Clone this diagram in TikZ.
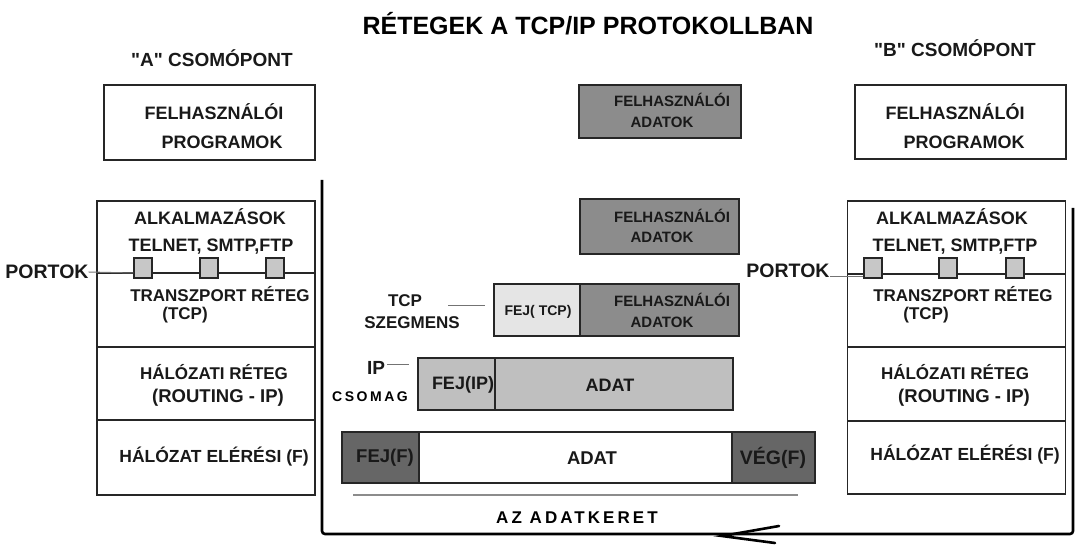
\documentclass[tikz,border=0pt]{standalone}
\usepackage{fontspec}
\setmainfont{Liberation Sans}[Ligatures=TeXOff]
\newfontfamily\spaced[LetterSpace=18]{Liberation Sans}
\begin{document}
\begin{tikzpicture}[x=1pt,y=-1pt,
  lbl/.style={inner sep=0pt, text=black!90, font=\bfseries\fontsize{18}{21}\selectfont},
  lbls/.style={lbl, font=\bfseries\fontsize{15}{18}\selectfont},
  ttl/.style={inner sep=0pt, font=\bfseries\fontsize{25}{28}\selectfont},
  spc/.style={inner sep=0pt, font=\spaced\bfseries\fontsize{14}{16}\selectfont},
  box/.style={draw=black!85, line width=1.6pt, inner sep=0pt},
  layer/.style={box, minimum width=218, fill=white},
  udbox/.style={box, fill=black!45, minimum height=53},
  light/.style={box, fill=black!10},
  ipbox/.style={box, fill=black!25},
  dark/.style={box, fill=black!60},
  port/.style={draw=black!85, fill=black!22, line width=1.2pt, minimum width=18, minimum height=20, inner sep=0pt},
  leader/.style={draw=black!55, line width=1pt},
  bigline/.style={draw=black, line width=2.6pt, rounded corners=3pt}
]
\useasboundingbox (0,0) rectangle (1079,545);

% title and node names
\node[ttl] (title) at (588,24) {RÉTEGEK A TCP/IP PROTOKOLLBAN};
\node[lbl, font=\bfseries\fontsize{19}{21}\selectfont] (csA) at (212,58) {"A" CSOMÓPONT};
\node[lbl, font=\bfseries\fontsize{19}{21}\selectfont] (csB) at (955,48) {"B" CSOMÓPONT};

% user program boxes
\node[box, minimum width=211, minimum height=75] (progL) at (209.5,122.5) {};
\node[lbl] (progL1) at (214,112) {FELHASZNÁLÓI};
\node[lbl] (progL2) at (222,142) {PROGRAMOK};
\node[box, minimum width=211, minimum height=74] (progR) at (960.5,122) {};
\node[lbl] (progR1) at (955,112) {FELHASZNÁLÓI};
\node[lbl] (progR2) at (964,142) {PROGRAMOK};

% big U line
\coordinate (uTL) at (322,180);
\coordinate (uBL) at (322,534);
\coordinate (uBR) at (1073,534);
\coordinate (uTR) at (1073,208);
\draw[bigline] (uTL) -- (uBL) -- (uBR) -- (uTR);
\coordinate (arrTip) at (722,536);
\coordinate (arrA) at (779,526);
\coordinate (arrB) at (775,543);
\draw[black, line width=2.6pt, line cap=round] (arrA) -- (arrTip) -- (arrB);

% left stack
\node[layer, minimum height=72] (appL) at (206,237) {};
\node[layer, minimum height=74] (trL) at (206,310) {};
\node[layer, minimum height=73] (netL) at (206,383.5) {};
\node[layer, minimum height=75] (accL) at (206,457.5) {};
\node[lbl] (appLt) at (210,217) {ALKALMAZÁSOK};
\node[lbl] (telL) at (211,247) {TELNET, SMTP,FTP};
\node[port] (pL1) at (143,268) {};
\node[port] (pL2) at (209,268) {};
\node[port] (pL3) at (275,268) {};
\node[lbl, font=\bfseries\fontsize{19.5}{22}\selectfont] (portL) at (47,272) {PORTOK};
\draw[leader] (portL.east) -- (pL1.west |- 0,273);
\node[lbl, font=\bfseries\fontsize{17}{20}\selectfont] (trLt) at (220,294) {TRANSZPORT RÉTEG};
\node[lbl, font=\bfseries\fontsize{17}{20}\selectfont] (trLt2) at (185,315) {(TCP)};
\node[lbl, font=\bfseries\fontsize{17}{20}\selectfont] (netLt) at (214,372) {HÁLÓZATI RÉTEG};
\node[lbl, font=\bfseries\fontsize{18.5}{21}\selectfont] (netLt2) at (218,398) {(ROUTING - IP)};
\node[lbl, font=\bfseries\fontsize{17.5}{20}\selectfont] (accLt) at (214,457) {HÁLÓZAT ELÉRÉSI (F)};

% right stack
\node[layer, minimum height=73] (appR) at (956.5,237.5) {};
\node[layer, minimum height=73] (trR) at (956.5,310.5) {};
\node[layer, minimum height=74] (netR) at (956.5,384) {};
\node[layer, minimum height=73] (accR) at (956.5,457.5) {};
\node[lbl] (appRt) at (952,217) {ALKALMAZÁSOK};
\node[lbl] (telR) at (955,247) {TELNET, SMTP,FTP};
\node[port] (pR1) at (873,268) {};
\node[port] (pR2) at (948,268) {};
\node[port] (pR3) at (1015,268) {};
\node[lbl, font=\bfseries\fontsize{19.5}{22}\selectfont] (portR) at (788,271) {PORTOK};
\draw[leader] (portR.east |- 0,277) -- (pR1.west |- 0,277);
\node[lbl, font=\bfseries\fontsize{17}{20}\selectfont] (trRt) at (963,294) {TRANSZPORT RÉTEG};
\node[lbl, font=\bfseries\fontsize{17}{20}\selectfont] (trRt2) at (926,315) {(TCP)};
\node[lbl, font=\bfseries\fontsize{17}{20}\selectfont] (netRt) at (955,372) {HÁLÓZATI RÉTEG};
\node[lbl, font=\bfseries\fontsize{18.5}{21}\selectfont] (netRt2) at (964,398) {(ROUTING - IP)};
\node[lbl, font=\bfseries\fontsize{17.5}{20}\selectfont] (accRt) at (965,455) {HÁLÓZAT ELÉRÉSI (F)};

% user data boxes
\node[udbox, minimum width=162] (ud1) at (660,111.5) {};
\node[lbls] (ud1a) at (672,100) {FELHASZNÁLÓI};
\node[lbls] (ud1b) at (662,122) {ADATOK};
\node[udbox, minimum width=159, minimum height=55] (ud2) at (659.5,226.5) {};
\node[lbls] (ud2a) at (672,216) {FELHASZNÁLÓI};
\node[lbls] (ud2b) at (662,237) {ADATOK};

% TCP segment
\node[light, minimum width=86, minimum height=52] (fejtcp) at (537,310) {};
\node[udbox, minimum width=159, minimum height=52] (udtcp) at (659.5,310) {};
\node[lbl, font=\bfseries\fontsize{14}{16}\selectfont] (fejtcpt) at (538,312) {FEJ( TCP)};
\node[lbls] (udtcpa) at (672,300) {FELHASZNÁLÓI};
\node[lbls] (udtcpb) at (662,322) {ADATOK};
\node[lbl, font=\bfseries\fontsize{17}{19}\selectfont] (tcpl) at (405,301) {TCP};
\node[lbl, font=\bfseries\fontsize{17}{19}\selectfont] (szeg) at (412,323) {SZEGMENS};
\coordinate (tcpLa) at (448,306);
\coordinate (tcpLb) at (485,306);
\draw[leader] (tcpLa) -- (tcpLb);

% IP packet
\node[ipbox, minimum width=77, minimum height=52] (fejip) at (456.5,384) {};
\node[ipbox, minimum width=238, minimum height=52] (adatip) at (614,384) {};
\node[lbl] (fejipt) at (463,385) {FEJ(IP)};
\node[lbl] (adatipt) at (610,385) {ADAT};
\node[lbl, font=\bfseries\fontsize{19}{21}\selectfont] (ipl) at (376,368) {IP};
\node[spc] (csomag) at (370,397) {CSOMAG};
\coordinate (ipLa) at (387,364);
\coordinate (ipLb) at (409,364);
\draw[leader] (ipLa) -- (ipLb);

% frame
\node[dark, minimum width=77, minimum height=51] (fejf) at (380.5,457.5) {};
\node[box, fill=white, minimum width=313, minimum height=51] (adatf) at (575.5,457.5) {};
\node[dark, minimum width=83, minimum height=51] (vegf) at (773.5,457.5) {};
\node[lbl, font=\bfseries\fontsize{18.5}{21}\selectfont] (fejft) at (385,458) {FEJ(F)};
\node[lbl, font=\bfseries\fontsize{18.5}{21}\selectfont] (adatft) at (592,458) {ADAT};
\node[lbl, font=\bfseries\fontsize{19.5}{21}\selectfont] (vegft) at (773,458) {VÉG(F)};
\coordinate (ulA) at (353,495);
\coordinate (ulB) at (798,495);
\draw[black!45, line width=1.6pt] (ulA) -- (ulB);
\node[spc, font=\spaced\bfseries\fontsize{17}{19}\selectfont] (keret) at (577,518) {AZ ADATKERET};
\end{tikzpicture}
\end{document}
